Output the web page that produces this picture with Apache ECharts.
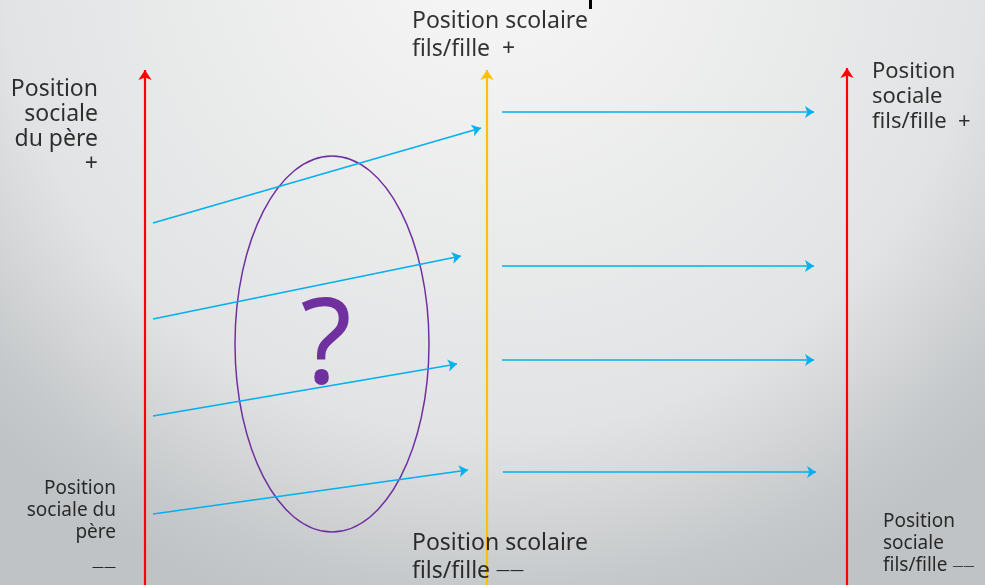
<!DOCTYPE html>
<html>
<head>
<meta charset="utf-8">
<script src="https://cdn.jsdelivr.net/npm/echarts@6/dist/echarts.min.js"></script>
<style>
  html, body { margin: 0; padding: 0; }
  #main { width: 985px; height: 585px; }
</style>
</head>
<body>
<div id="main"></div>
<script>
// diagram space: x 0..985, y 0..585 (y grows downwards)
var axisX = [145, 487, 847];
var axisTopY = [70, 70, 68];
var axisBottomY = 585;

var fatherX = 153;
var fatherY = [223, 319, 416, 514];
var schoolEnd = [[481, 128], [461, 256], [457, 364], [468, 470]];

var sonStartX = [502, 502, 502, 503];
var sonEndX = [814, 814, 814, 816];
var sonY = [112, 266, 360, 472];

// ellipse: centre x, centre y, radius x, radius y
var doubt = [332, 344, 97, 188];

var labels = [
    { text: 'Position\nsociale\ndu père\n+', x: 98, y: 77 },
    { text: 'Position scolaire\n{t|fils/fille  +}', x: 412, y: 7 },
    { text: 'Position\nsociale\nfils/fille  +', x: 872, y: 59 },
    { text: 'Position\nsociale du\npère', x: 116, y: 478 },
    { text: '——', x: 116, y: 560 },
    { text: 'Position scolaire\nfils/fille {d|——}', x: 412, y: 529 },
    { text: 'Position\nsociale\nfils/fille {d|——}', x: 883, y: 511 }
];

var chartDom = document.getElementById('main');
var myChart = echarts.init(chartDom);
var option;

var textColor = '#000';

function labelSeries(idx, align, size, lh, dashSize) {
    var l = labels[idx];
    return {
        type: 'scatter',
        symbolSize: 0,
        silent: true,
        data: [[l.x, l.y]],
        label: {
            show: true,
            position: [0, 0],
            align: align,
            verticalAlign: 'top',
            formatter: l.text,
            color: textColor,
            fontFamily: 'Noto Sans',
            fontSize: size,
            lineHeight: lh,
            rich: {
                t: { fontFamily: 'Noto Sans', fontSize: size, lineHeight: lh, color: textColor },
                d: { fontFamily: 'Noto Sans', fontSize: dashSize, lineHeight: lh, color: textColor }
            }
        }
    };
}

option = {
    animation: false,
    backgroundColor: {
        type: 'radial',
        x: 0.5, y: -0.1, r: 1.2,
        colorStops: [
            { offset: 0, color: '#f7f7f7' },
            { offset: 0.7, color: '#e2e3e4' },
            { offset: 0.92, color: '#c6c9cb' },
            { offset: 1, color: '#c0c3c5' }
        ]
    },
    grid: { left: 0, right: 0, top: 0, bottom: 0 },
    xAxis: { type: 'value', min: 0, max: 985, show: false },
    yAxis: { type: 'value', min: 0, max: 585, inverse: true, show: false },
    series: [
        {
            type: 'custom',
            silent: true,
            data: [doubt],
            renderItem: function (params, api) {
                var c = api.coord([api.value(0), api.value(1)]);
                var e = api.coord([api.value(0) + api.value(2), api.value(1) + api.value(3)]);
                return {
                    type: 'group',
                    children: [
                        {
                            type: 'ellipse',
                            shape: { cx: c[0], cy: c[1], rx: Math.abs(e[0] - c[0]), ry: Math.abs(e[1] - c[1]) },
                            style: { fill: 'none', stroke: '#7030a0', lineWidth: 1.5 }
                        },
                        {
                            type: 'text',
                            x: c[0] - 6, y: c[1] + 5,
                            style: {
                                text: '?', fill: '#7030a0', fontFamily: 'Noto Sans',
                                fontSize: 118, align: 'center', verticalAlign: 'middle'
                            }
                        }
                    ]
                };
            }
        },
        {
            type: 'lines',
            coordinateSystem: 'cartesian2d',
            silent: true,
            symbol: ['none', 'arrow'],
            symbolSize: 9,
            lineStyle: { color: '#00b0f0', width: 1.5, opacity: 1 },
            data: fatherY.map(function (y, i) {
                return { coords: [[fatherX, y], schoolEnd[i]] };
            }).concat(sonY.map(function (y, i) {
                return { coords: [[sonStartX[i], y], [sonEndX[i], y]] };
            }))
        },
        {
            type: 'lines',
            coordinateSystem: 'cartesian2d',
            silent: true,
            symbol: ['none', 'arrow'],
            symbolSize: 10,
            lineStyle: { width: 2.2, opacity: 1 },
            data: axisX.map(function (x, i) {
                return {
                    coords: [[x, axisBottomY], [x, axisTopY[i]]],
                    lineStyle: { color: i === 1 ? '#ffc000' : '#ff0000' }
                };
            })
        },
        {
            // bit of the cut-off title
            type: 'lines',
            coordinateSystem: 'cartesian2d',
            silent: true,
            lineStyle: { color: '#000', width: 3, opacity: 1 },
            data: [{ coords: [[590, 0], [590, 9]] }]
        },
        labelSeries(0, 'right', 23, 25, 23),
        labelSeries(1, 'left', 23, 28, 23),
        labelSeries(2, 'left', 22, 25, 22),
        labelSeries(3, 'right', 19, 22, 19),
        labelSeries(4, 'right', 12, 16, 12),
        labelSeries(5, 'left', 23, 28, 14),
        labelSeries(6, 'left', 19, 22, 11)
    ]
};

option && myChart.setOption(option);
</script>
</body>
</html>
